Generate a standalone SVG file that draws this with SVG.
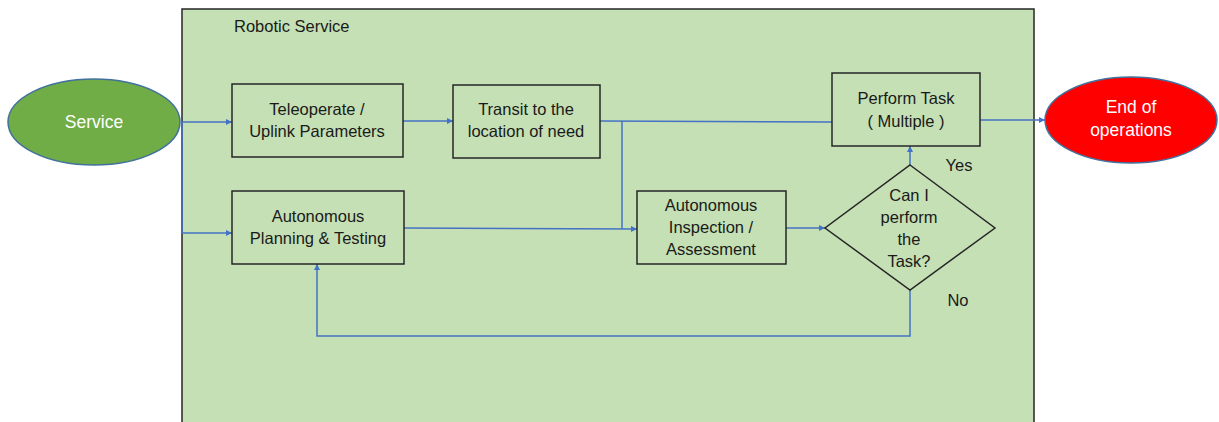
<svg xmlns="http://www.w3.org/2000/svg" width="1219" height="422" viewBox="0 0 1219 422">
  <style>
    .box { fill: #c5e0b4; stroke: #262626; stroke-width: 1.5; }
    .lbl { font-family: "Liberation Sans", Arial, sans-serif; font-size: 16.5px; fill: #1a1a1a; text-anchor: middle; }
    .wlbl { font-family: "Liberation Sans", Arial, sans-serif; font-size: 17.5px; fill: #ffffff; text-anchor: middle; }
    .conn { fill: none; stroke: #4472c4; stroke-width: 1.5; }
  </style>
  <defs>
    <marker id="arrow" viewBox="0 0 10 10" refX="10" refY="5" markerWidth="6" markerHeight="6" orient="auto" markerUnits="userSpaceOnUse">
      <path d="M0,0 L10,5 L0,10 z" fill="#4472c4"/>
    </marker>
  </defs>

  <rect width="1219" height="422" fill="#ffffff"/>

  <!-- container -->
  <g id="robotic-service">
    <rect x="182" y="9" width="852" height="420" class="box"/>
    <text x="234" y="32" font-family="Liberation Sans, Arial, sans-serif" font-size="16.5" fill="#1a1a1a">Robotic Service</text>
  </g>

  <!-- connectors -->
  <g id="connectors">
    <line x1="181" y1="122" x2="232" y2="122" class="conn" marker-end="url(#arrow)"/>
    <polyline points="182,122 182,233 232,233" class="conn" marker-end="url(#arrow)"/>
    <line x1="403" y1="121" x2="453" y2="121" class="conn" marker-end="url(#arrow)"/>
    <line x1="600" y1="121" x2="832" y2="122" class="conn"/>
    <line x1="622" y1="121" x2="622" y2="229" class="conn"/>
    <line x1="404" y1="228" x2="637" y2="229" class="conn" marker-end="url(#arrow)"/>
    <line x1="786" y1="228" x2="825" y2="228" class="conn" marker-end="url(#arrow)"/>
    <line x1="910" y1="165" x2="910" y2="146" class="conn" marker-end="url(#arrow)"/>
    <polyline points="910,290 910,336 317,336 317,264" class="conn" marker-end="url(#arrow)"/>
    <line x1="980" y1="120" x2="1045" y2="120" class="conn" marker-end="url(#arrow)"/>
  </g>

  <g id="service">
    <ellipse cx="94" cy="122" rx="86" ry="43" fill="#70ad47" stroke="#41719c" stroke-width="1.5"/>
    <text x="94" y="128" class="wlbl">Service</text>
  </g>

  <g id="teleoperate">
    <rect x="232" y="84" width="171" height="73" class="box"/>
    <text x="317" y="115" class="lbl">Teleoperate /</text>
    <text x="317" y="137" class="lbl">Uplink Parameters</text>
  </g>

  <g id="planning">
    <rect x="232" y="191" width="172" height="73" class="box"/>
    <text x="318" y="222" class="lbl">Autonomous</text>
    <text x="318" y="244" class="lbl">Planning &amp; Testing</text>
  </g>

  <g id="transit">
    <rect x="453" y="85" width="147" height="73" class="box"/>
    <text x="526" y="115" class="lbl">Transit to the</text>
    <text x="526" y="137" class="lbl">location of need</text>
  </g>

  <g id="inspection">
    <rect x="637" y="191" width="149" height="73" class="box"/>
    <text x="711" y="211" class="lbl">Autonomous</text>
    <text x="711" y="233" class="lbl">Inspection /</text>
    <text x="711" y="255" class="lbl">Assessment</text>
  </g>

  <g id="perform-task">
    <rect x="832" y="73" width="148" height="73" class="box"/>
    <text x="906" y="104" class="lbl">Perform Task</text>
    <text x="906" y="127" class="lbl">( Multiple )</text>
  </g>

  <g id="decision">
    <polygon points="910,165 995,228 910,290 825,228" class="box"/>
    <text x="909" y="201" class="lbl">Can I</text>
    <text x="909" y="223" class="lbl">perform</text>
    <text x="909" y="245" class="lbl">the</text>
    <text x="909" y="267" class="lbl">Task?</text>
    <text x="959" y="171" class="lbl">Yes</text>
    <text x="958" y="306" class="lbl">No</text>
  </g>

  <g id="end">
    <ellipse cx="1131" cy="120" rx="86" ry="43" fill="#ff0000" stroke="#41719c" stroke-width="1.5"/>
    <text x="1131" y="113" class="wlbl">End of</text>
    <text x="1131" y="136" class="wlbl">operations</text>
  </g>
</svg>
